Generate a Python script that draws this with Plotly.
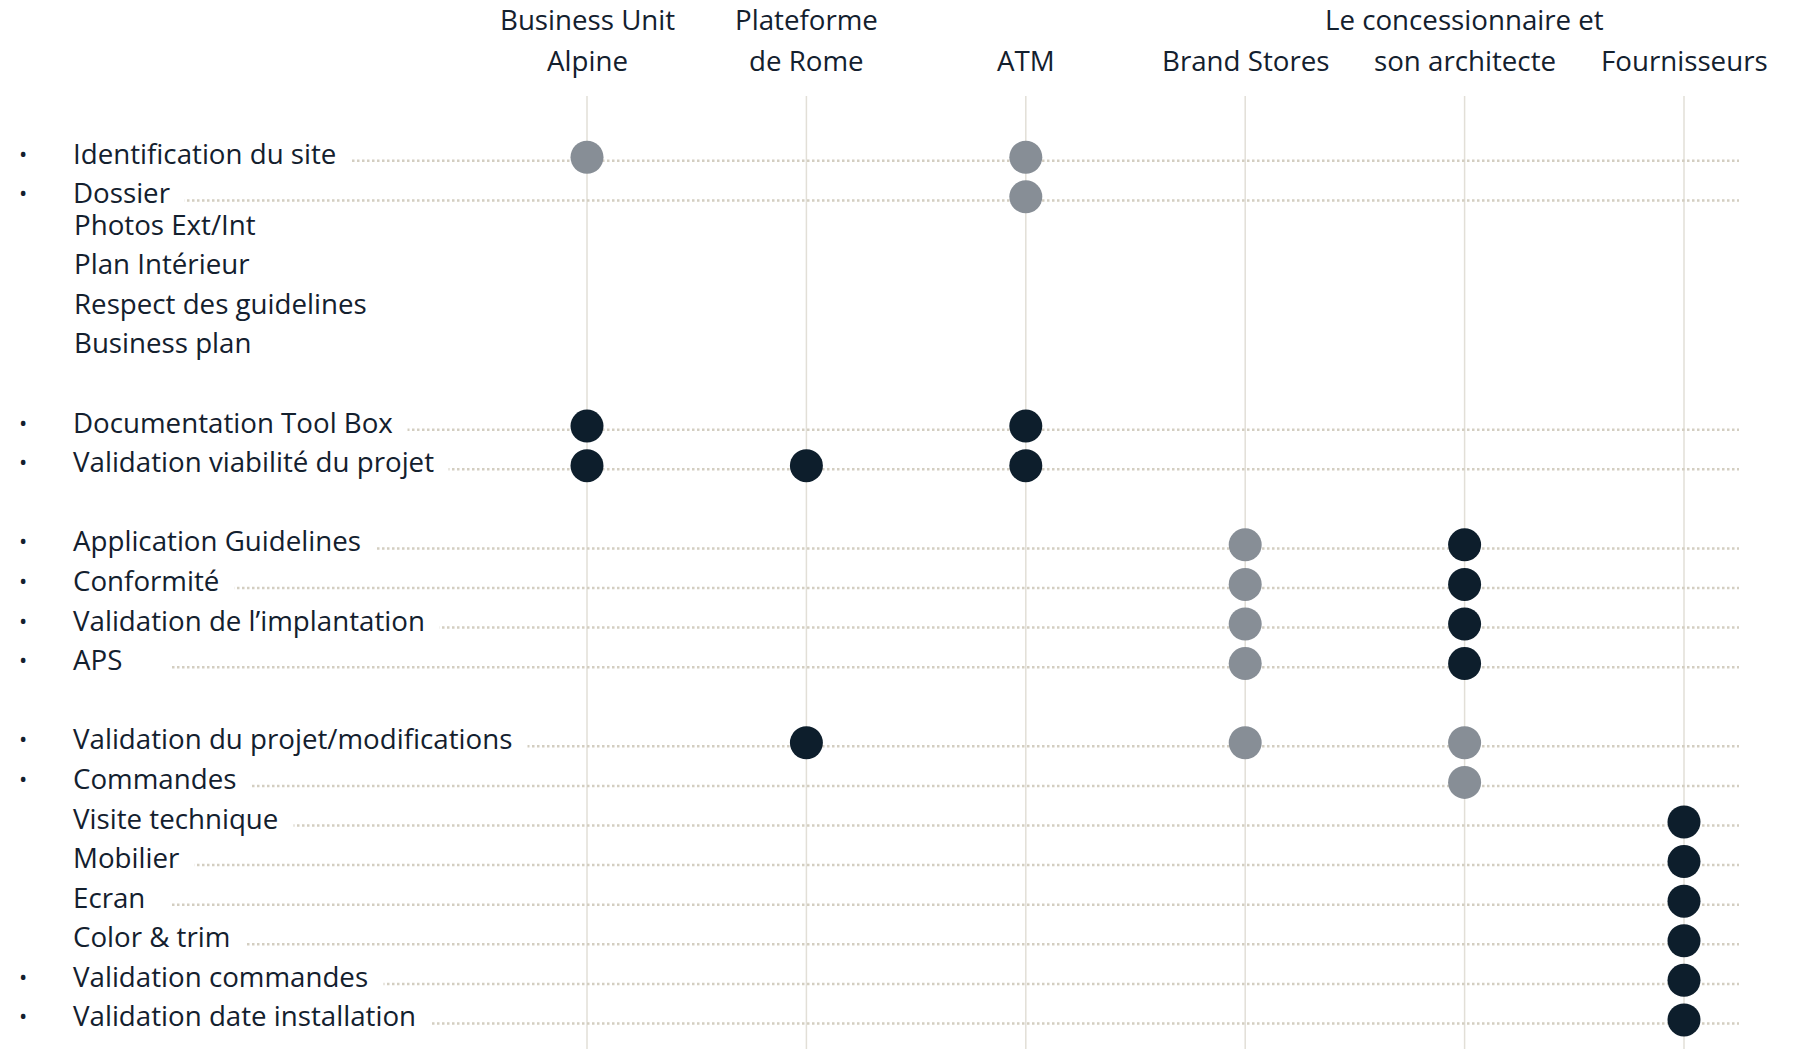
import plotly.graph_objects as go

# ---------------- data ----------------
column_labels = ["Business Unit<br>Alpine", "Plateforme<br>de Rome", "ATM", "Brand Stores",
                 "Le concessionnaire et<br>son architecte", "Fournisseurs"]

task_labels = [
    "Identification du site",
    "Dossier",
    "Documentation Tool Box",
    "Validation viabilité du projet",
    "Application Guidelines",
    "Conformité",
    "Validation de l’implantation",
    "APS",
    "Validation du projet/modifications",
    "Commandes",
    "Visite technique",
    "Mobilier",
    "Ecran",
    "Color & trim",
    "Validation commandes",
    "Validation date installation",
]
task_bullets = [True, True, True, True, True, True, True, True,
                True, True, False, False, False, False, True, True]
task_groups = [0, 0, 1, 1, 2, 2, 2, 2, 3, 3, 3, 3, 3, 3, 3, 3]
dossier_details = ["Photos Ext/Int", "Plan Intérieur", "Respect des guidelines", "Business plan"]

# involvement level per task: 0 = none, 1 = secondary (grey), 2 = lead (dark)
business_unit_alpine       = [1, 0, 2, 2, 0, 0, 0, 0, 0, 0, 0, 0, 0, 0, 0, 0]
plateforme_de_rome         = [0, 0, 0, 2, 0, 0, 0, 0, 2, 0, 0, 0, 0, 0, 0, 0]
atm                        = [1, 1, 2, 2, 0, 0, 0, 0, 0, 0, 0, 0, 0, 0, 0, 0]
brand_stores               = [0, 0, 0, 0, 1, 1, 1, 1, 1, 0, 0, 0, 0, 0, 0, 0]
concessionnaire_architecte = [0, 0, 0, 0, 2, 2, 2, 2, 1, 1, 0, 0, 0, 0, 0, 0]
fournisseurs               = [0, 0, 0, 0, 0, 0, 0, 0, 0, 0, 2, 2, 2, 2, 2, 2]

involvement = [business_unit_alpine, plateforme_de_rome, atm, brand_stores,
               concessionnaire_architecte, fournisseurs]

# ---------------- layout / style ----------------
W, H = 1801, 1049
FONT = "Open Sans"
TEXT_COLOR = "#13202e"
GREY = "#878e96"
DARK = "#0d1e2c"
GRID = "#e2dfd7"
DOTLINE = "#d3cec1"
ROW_PX = 39.59
FIRST_ROW_PX = 152.5
COL_PX = 219.4
FIRST_COL_PX = 587.0
TOP_NUDGE = 0.21      # first block sits slightly lower
TEXT_X = 72.0
BULLET_X = 23.0
LINE_X0 = 172.0
LINE_X1 = 1739.0
GRID_TOP = 96.0
HEAD_Y = [59.7, 19.5]  # bottom header line, line above (px from top)
FS = 27.7
PAD = "\u00a0\u00a0"

# compute row positions from order (blank spacer row between groups)
rows, detail_rows = [], []
r, prev = 0, task_groups[0]
for i, g in enumerate(task_groups):
    if g != prev:
        r += 1
        prev = g
    rows.append(r + (TOP_NUDGE if g == 0 else 0))
    r += 1
    if task_labels[i] == "Dossier":
        for _ in dossier_details:
            detail_rows.append(r)
            r += 1

fig = go.Figure()

for level, color in [(1, GREY), (2, DARK)]:
    xs, ys = [], []
    for j, col in enumerate(involvement):
        for i, v in enumerate(col):
            if v == level:
                xs.append(j)
                ys.append(rows[i] - 0.09)
    fig.add_trace(go.Scatter(x=xs, y=ys, mode="markers",
                             marker=dict(size=33, color=color, line=dict(width=0)),
                             hoverinfo="skip", showlegend=False))

shapes = []
for j in range(len(column_labels)):
    shapes.append(dict(type="line", xref="x", yref="paper", x0=j, x1=j,
                       y0=0, y1=1 - GRID_TOP / H, layer="below",
                       line=dict(color=GRID, width=1.5)))
for i, yv in enumerate(rows):
    shapes.append(dict(type="line", xref="paper", yref="y", x0=LINE_X0 / W, x1=LINE_X1 / W,
                       y0=yv, y1=yv, layer="below",
                       line=dict(color=DOTLINE, width=2.5, dash="2.5px,2.5px")))

annotations = []
for i, lab in enumerate(task_labels):
    annotations.append(dict(x=TEXT_X / W, xref="paper", y=rows[i], yref="y", yshift=8,
                            text=lab + PAD, showarrow=False, xanchor="left", yanchor="middle",
                            bgcolor="white", borderpad=0,
                            font=dict(family=FONT, size=FS, color=TEXT_COLOR)))
    if task_bullets[i]:
        annotations.append(dict(x=BULLET_X / W, xref="paper", y=rows[i], yref="y", yshift=8,
                                text="•", showarrow=False, xanchor="center", yanchor="middle",
                                font=dict(family=FONT, size=22, color=TEXT_COLOR)))
for d, yv in zip(dossier_details, detail_rows):
    annotations.append(dict(x=TEXT_X / W, xref="paper", y=yv, yref="y", yshift=8,
                            text=d, showarrow=False, xanchor="left", yanchor="middle",
                            font=dict(family=FONT, size=FS, color=TEXT_COLOR)))

for j, lab in enumerate(column_labels):
    parts = lab.split("<br>")
    for k, part in enumerate(reversed(parts)):
        annotations.append(dict(x=j, xref="x", y=1 - HEAD_Y[k] / H, yref="paper",
                                text=part, showarrow=False, xanchor="center", yanchor="middle",
                                font=dict(family=FONT, size=FS, color=TEXT_COLOR)))

fig.update_layout(
    width=W, height=H,
    margin=dict(l=0, r=0, t=0, b=0),
    paper_bgcolor="white", plot_bgcolor="white",
    xaxis=dict(range=[-FIRST_COL_PX / COL_PX, (W - FIRST_COL_PX) / COL_PX],
               showgrid=False, zeroline=False, showticklabels=False, visible=False),
    yaxis=dict(range=[(H - FIRST_ROW_PX) / ROW_PX, -FIRST_ROW_PX / ROW_PX],
               showgrid=False, zeroline=False, showticklabels=False, visible=False),
    shapes=shapes,
    annotations=annotations,
    showlegend=False,
)

fig.write_html("out.html",
               config={"displayModeBar": False},
               post_script="document.body.style.margin='0';document.body.style.overflow='hidden';")
